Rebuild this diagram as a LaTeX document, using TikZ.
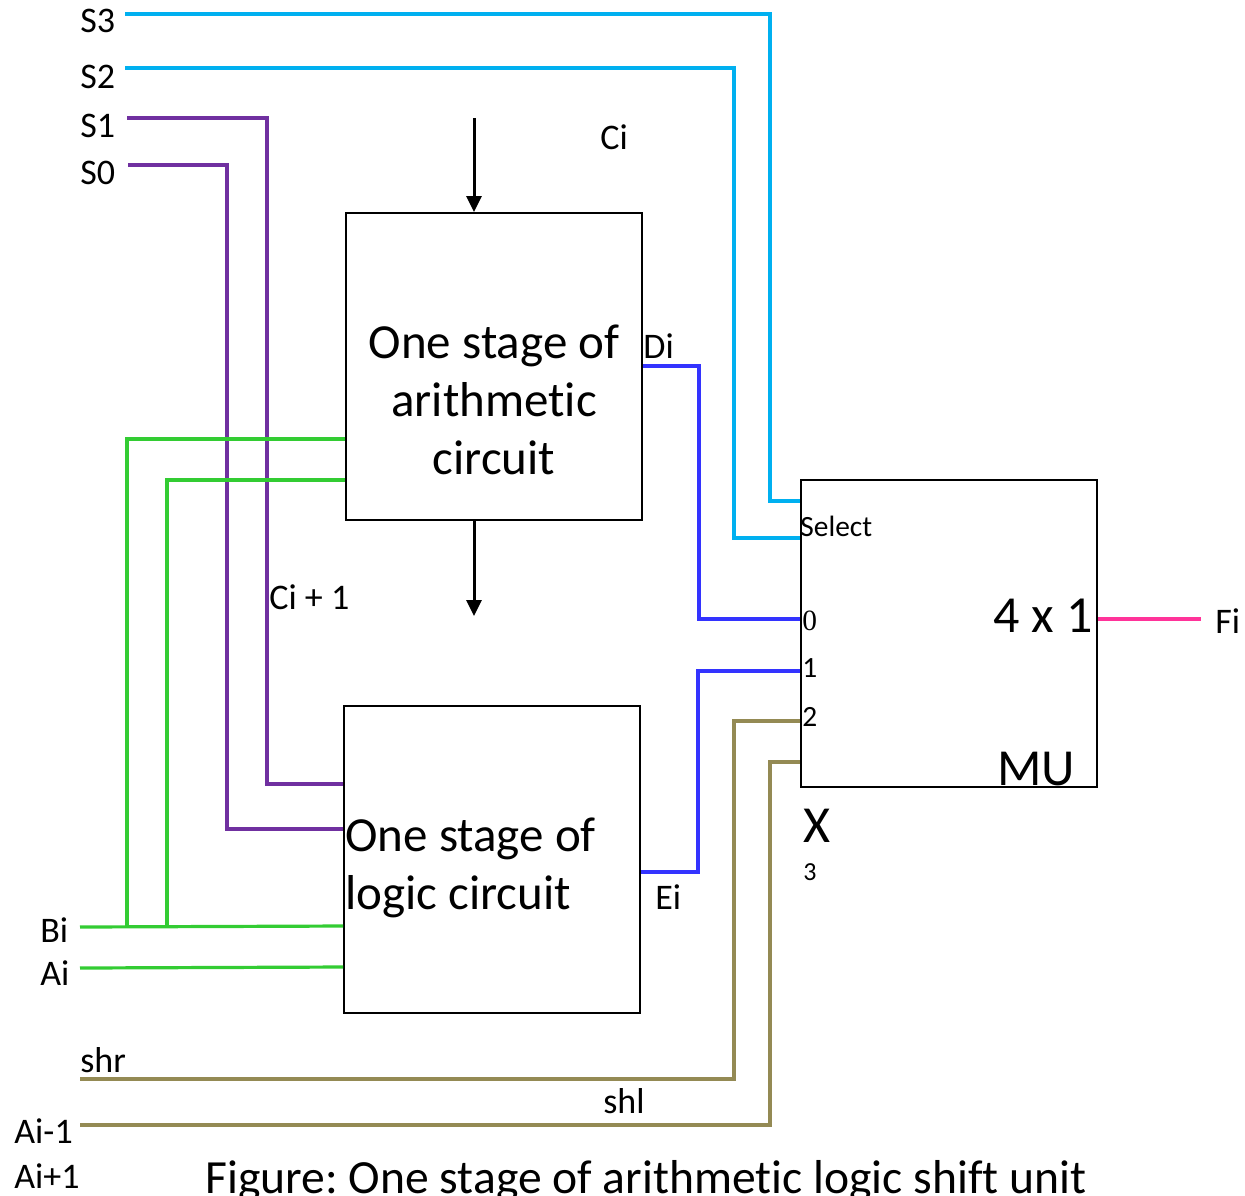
\documentclass[tikz,border=0pt]{standalone}
\usepackage{fontspec}
\setmainfont{Carlito}[Ligatures=NoCommon]
\newfontfamily\pinfont{Liberation Serif}
\frenchspacing
\usetikzlibrary{arrows.meta,calc}
\definecolor{wsky}{HTML}{00B0F0}
\definecolor{wplum}{HTML}{7030A0}
\definecolor{wgrn}{HTML}{33CC33}
\definecolor{wblu}{HTML}{3333FF}
\definecolor{wolv}{HTML}{948A54}
\definecolor{wpnk}{HTML}{FF3399}
\tikzset{
  >={Triangle[length=8pt,width=7.5pt]},
  box/.style={draw=black,line width=1pt,minimum width=148pt,minimum height=153.5pt,inner sep=0pt},
  lab/.style={inner sep=0pt,anchor=base west,font=\fontsize{18}{21}\selectfont},
  blab/.style={inner sep=0pt,font=\fontsize{24.5}{29}\selectfont},
  slab/.style={inner sep=0pt,anchor=base west,font=\fontsize{14.7}{17}\selectfont},
  mlab/.style={inner sep=0pt,font=\fontsize{26}{30}\selectfont},
  arr/.style={->,line width=1.5pt},
  wire/.style={line width=1.6pt},
  cwire/.style={wire,draw=wsky},
  pwire/.style={wire,draw=wplum},
  gwire/.style={wire,draw=wgrn},
  bwire/.style={wire,draw=wblu},
  owire/.style={wire,draw=wolv},
  rwire/.style={wire,draw=wpnk},
}
\begin{document}
\begin{tikzpicture}[x=0.5pt,y=-0.5pt]
\useasboundingbox (0,0) rectangle (1245,1195);
% blocks
\node[box] (arith) at (494,366.5) {};
\node[box] (logic) at (492,859.5) {};
\node[box] (mux) at (949,633.5) {};
\node[blab,align=center] (atxt) at ($(arith.center)+(0,33)$) {One stage of\\arithmetic\\circuit};
\node[blab,align=left,anchor=west] (ltxt) at ($(logic.west)+(2,8)$) {One stage of\\logic circuit};
% mux texts
\node[slab] (sel) at ($(mux.north west)+(0,57)$) {Select};
\node[slab] (n0) at ($(mux.north west)+(2,151)$) {\pinfont 0};
\node[slab] (n1) at ($(mux.north west)+(2,198)$) {1};
\node[slab] (n2) at ($(mux.north west)+(2,247)$) {2};
\node[mlab,anchor=base east] (size) at (1093,632) {4 x 1};
\node[mlab,anchor=base west] (mu) at (997,785) {MU};
\node[mlab,anchor=base west] (ex) at (803,842) {X};
\node[inner sep=0pt,anchor=base west,font=\fontsize{13}{15}\selectfont] (three) at (803,880) {3};
% pins
\coordinate (pS3) at ($(mux.north west)+(0,22)$);
\coordinate (pS2) at ($(mux.north west)+(0,59)$);
\coordinate (p0) at ($(mux.north west)+(0,140)$);
\coordinate (p1) at ($(mux.north west)+(0,192)$);
\coordinate (p2) at ($(mux.north west)+(0,242)$);
\coordinate (p3) at ($(mux.north west)+(0,283)$);
\coordinate (aB) at ($(arith.north west)+(0,227)$);
\coordinate (aA) at ($(arith.north west)+(0,268)$);
\coordinate (aD) at ($(arith.north east)+(0,154)$);
\coordinate (lS1) at ($(logic.north west)+(0,79)$);
\coordinate (lS0) at ($(logic.north west)+(0,124)$);
\coordinate (lB) at ($(logic.north west)+(0,221)$);
\coordinate (lA) at ($(logic.north west)+(0,262)$);
\coordinate (lE) at ($(logic.north east)+(0,167)$);
% inputs
\coordinate (s3) at (125,14);
\coordinate (s2) at (125,68);
\coordinate (s1) at (127,118);
\coordinate (s0) at (128,165);
\coordinate (bi) at (80,927);
\coordinate (ai) at (80,968);
\coordinate (shr) at (80,1079);
\coordinate (aim) at (80,1125);
\coordinate (cin) at (474,118);
\node[lab] (ls3) at (80,32) {S3};
\node[lab] (ls2) at (80,88) {S2};
\node[lab] (ls1) at (80,137) {S1};
\node[lab] (ls0) at (80,184) {S0};
\node[lab] (lci) at (600,149) {Ci};
\node[lab] (ldi) at (643,358) {Di};
\node[lab] (lcn) at (269,609) {Ci + 1};
\node[lab] (lei) at (655,909) {Ei};
\node[lab] (lbi) at (40,942) {Bi};
\node[lab] (lai) at (40,985) {Ai};
\node[lab] (lshr) at (80,1072) {shr};
\node[lab] (lshl) at (603,1113) {shl};
\node[lab] (laim) at (14,1143) {Ai-1};
\node[lab] (laip) at (14,1188) {Ai+1};
\node[lab] (lfi) at (1215,633) {Fi};
\node[blab,anchor=base west,font=\fontsize{23.8}{28}\selectfont] (cap) at (205,1193) {Figure: One stage of arithmetic logic shift unit};
% wires
\draw[cwire] (s3) -- ++(645,0) |- (pS3);
\draw[cwire] (s2) -- ++(609,0) |- (pS2);
\draw[pwire] (s1) -- ++(140,0) |- (lS1);
\draw[pwire] (s0) -- ++(99,0) |- (lS0);
\draw[gwire] (bi) -- (lB);
\draw[gwire] (bi) ++(47,0) |- (aB);
\draw[gwire] (bi) ++(87,0) |- (aA);
\draw[gwire] (ai) -- (lA);
\draw[bwire] (aD) -- ++(56,0) |- (p0);
\draw[bwire] (lE) -- ++(57,0) |- (p1);
\draw[owire] (shr) -- ++(654,0) |- (p2);
\draw[owire] (aim) -- ++(690,0) |- (p3);
\draw[rwire] (p0 -| mux.east) -- ++(103,0);
\draw[arr] (cin) -- (cin |- arith.north);
\draw[arr] (cin |- arith.south) -- ++(0,95);
\end{tikzpicture}
\end{document}
